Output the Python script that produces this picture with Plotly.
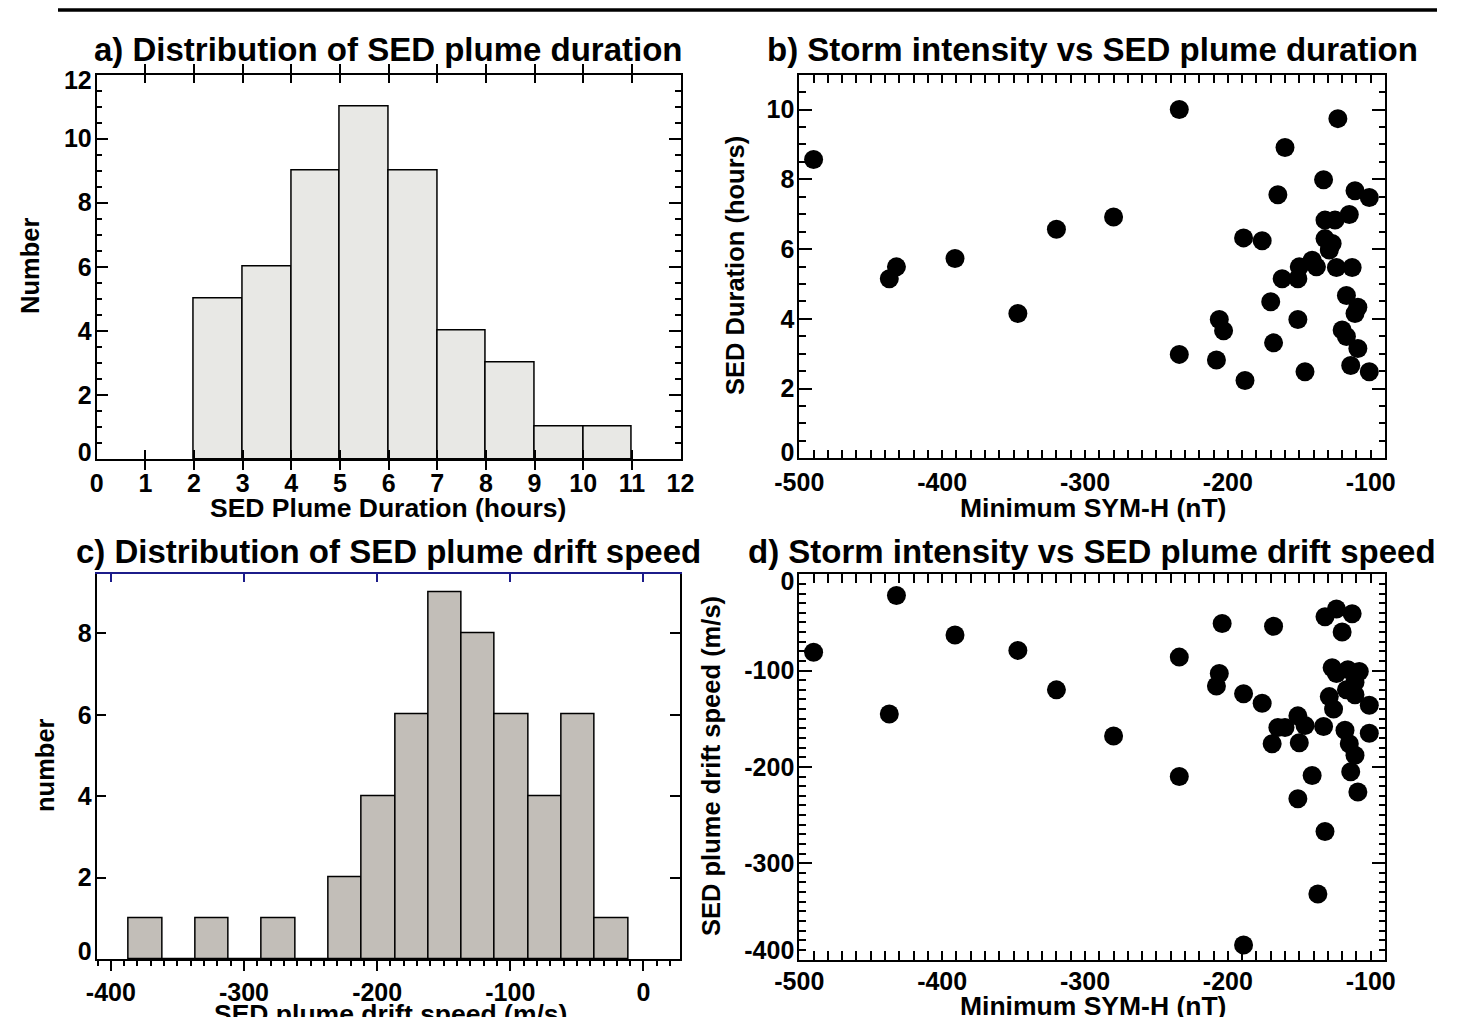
import plotly.graph_objects as go

# ---------------- data ----------------
# a) histogram of SED plume duration (hours)
dur_edges = [2, 3, 4, 5, 6, 7, 8, 9, 10, 11]
dur_counts = [5, 6, 9, 11, 9, 4, 3, 1, 1]

# c) histogram of SED plume drift speed (m/s)
spd_edges = [-386.5, -361.5, -336.5, -311.5, -286.5, -261.5, -236.5, -211.5,
             -186.5, -161.5, -136.5, -111.5, -86.5, -61.5, -36.5, -11.5]
spd_counts = [1, 0, 1, 0, 1, 0, 2, 4, 6, 9, 8, 6, 4, 6, 1]

# b) Minimum SYM-H vs SED duration
symh_b = [-490, -234, -123, -160, -133, -165, -111, -101, -115, -132, -125, -280,
          -320, -189, -176, -132, -127, -129, -391, -432, -437, -141, -150, -138,
          -124, -113, -162, -151, -117, -170, -109, -111, -347, -206, -151, -203,
          -120, -117, -168, -109, -234, -208, -114, -146, -101, -188]
dur_b = [8.57, 10.0, 9.74, 8.91, 7.99, 7.56, 7.67, 7.48, 6.99, 6.83, 6.83, 6.92,
         6.57, 6.32, 6.24, 6.30, 6.16, 5.97, 5.73, 5.49, 5.15, 5.68, 5.49, 5.49,
         5.47, 5.47, 5.15, 5.15, 4.67, 4.49, 4.33, 4.15, 4.15, 3.98, 3.98, 3.66,
         3.68, 3.49, 3.31, 3.15, 2.98, 2.82, 2.66, 2.48, 2.48, 2.23]

# d) Minimum SYM-H vs SED drift speed
symh_d = [-490, -432, -437, -391, -347, -320, -280, -234, -234, -204, -206, -208,
          -189, -189, -176, -168, -169, -165, -160, -151, -146, -150, -151, -141,
          -133, -132, -137, -132, -124, -113, -120, -127, -124, -116, -108, -111,
          -117, -111, -129, -126, -101, -118, -101, -115, -111, -114, -109]
spd_d = [-81, -22, -145, -63, -79, -120, -168, -86, -210, -51, -103, -116,
         -124, -385, -134, -54, -176, -159, -159, -147, -157, -175, -233, -209,
         -158, -267, -332, -44, -36, -41, -60, -97, -103, -99, -101, -112,
         -120, -125, -127, -140, -136, -162, -165, -176, -188, -205, -226]

# tick labels
dur_xticks = list(range(0, 13))
dur_xticklabels = [str(v) for v in dur_xticks]
count_a_ticks = [0, 2, 4, 6, 8, 10, 12]
count_a_labels = ["0", "2", "4", "6", "8", "10", "12"]
symh_ticks = [-500, -400, -300, -200, -100]
symh_labels = ["-500", "-400", "-300", "-200", "-100"]
dur_b_ticks = [0, 2, 4, 6, 8, 10]
dur_b_labels = ["0", "2", "4", "6", "8", "10"]
spd_xticks = [-400, -300, -200, -100, 0]
spd_xlabels = ["-400", "-300", "-200", "-100", "0"]
count_c_ticks = [0, 2, 4, 6, 8]
count_c_labels = ["0", "2", "4", "6", "8"]
spd_yticks = [-400, -300, -200, -100, 0]
spd_ylabels = ["-400", "-300", "-200", "-100", "0"]

titles = ["a) Distribution of SED plume duration",
          "b) Storm intensity vs SED plume duration",
          "c) Distribution of SED plume drift speed",
          "d) Storm intensity vs SED plume drift speed"]

# ---------------- layout helpers ----------------
W, H = 1468, 1017
FONT = "Liberation Sans, Arial, Helvetica, sans-serif"


def xd(a, b):
    return [a / W, b / W]


def yd(top, bottom):
    return [1 - bottom / H, 1 - top / H]


def px(x):
    return x / W


def py(y):
    return 1 - y / H


def nudge(vals, rng, top_px, bottom_px, shift_top, shift_bottom):
    """Move labels that sit on the frame edges slightly inward (IDL style)."""
    upp = (rng[1] - rng[0]) / (bottom_px - top_px)
    out = []
    for v in vals:
        if v == rng[1]:
            out.append(v - shift_top * upp)
        elif v == rng[0]:
            out.append(v + shift_bottom * upp)
        else:
            out.append(v)
    return out


tickfont = dict(family=FONT, size=25, color="black", weight="bold")
axis_common = dict(showgrid=False, zeroline=False, showline=True, automargin=False,
                   linecolor="black", linewidth=1.5, tickcolor="black",
                   tickwidth=1.5)
label_axis = dict(showgrid=False, zeroline=False, showline=False, ticks="",
                  automargin=False, tickmode="array", tickfont=tickfont,
                  ticklabelstandoff=4, side="left")

# panel frames (pixels)
A = dict(x0=96.7, x1=680.5, y0=74.5, y1=459.0, yr=[0, 12])
B = dict(x0=799.3, x1=1385.0, y0=74.7, y1=458.3, yr=[0, 11])
C = dict(x0=96.6, x1=680.2, y0=574.3, y1=959.0, yr=[0, 9.45])
D = dict(x0=799.3, x1=1385.0, y0=574.3, y1=959.5, yr=[-400, 0])

fig = go.Figure()

# a) histogram
dur_centers = [(dur_edges[i] + dur_edges[i + 1]) / 2 for i in range(len(dur_counts))]
dur_widths = [dur_edges[i + 1] - dur_edges[i] for i in range(len(dur_counts))]
fig.add_trace(go.Bar(x=dur_centers, y=dur_counts, width=dur_widths,
                     marker=dict(color="#e8e8e5", line=dict(color="black", width=1.5)),
                     xaxis="x", yaxis="y", showlegend=False))

# b) scatter
fig.add_trace(go.Scatter(x=symh_b, y=dur_b, mode="markers",
                         marker=dict(color="black", size=19, line=dict(width=0)),
                         xaxis="x2", yaxis="y2", showlegend=False))

# c) histogram
spd_centers = [(spd_edges[i] + spd_edges[i + 1]) / 2 for i in range(len(spd_counts))]
spd_widths = [spd_edges[i + 1] - spd_edges[i] for i in range(len(spd_counts))]
fig.add_trace(go.Bar(x=spd_centers, y=spd_counts, width=spd_widths,
                     marker=dict(color="#c2beb8", line=dict(color="black", width=1.5)),
                     xaxis="x3", yaxis="y3", showlegend=False))

# d) scatter
fig.add_trace(go.Scatter(x=symh_d, y=spd_d, mode="markers",
                         marker=dict(color="black", size=19, line=dict(width=0)),
                         xaxis="x4", yaxis="y4", showlegend=False))

# empty carriers so that the overlay axes are drawn
for xa, ya in [("x5", "y3"), ("x", "y5"), ("x2", "y6"), ("x3", "y7"), ("x4", "y8")]:
    fig.add_trace(go.Scatter(x=[None], y=[None], mode="markers", xaxis=xa, yaxis=ya,
                             showlegend=False, hoverinfo="skip"))


def minor_in(d, l):
    return dict(dtick=d, ticklen=l, ticks="inside", tickcolor="black", tickwidth=1.5)


fig.update_layout(
    template="none",
    autosize=True,
    showlegend=False,
    margin=dict(l=0, r=0, t=0, b=0, pad=0, autoexpand=False),
    paper_bgcolor="white", plot_bgcolor="white",
    bargap=0,
    font=dict(family=FONT, color="black"),
    # panel a
    xaxis=dict(domain=xd(A["x0"], A["x1"]), range=[0, 12], tickmode="array",
               tickvals=dur_xticks, ticktext=dur_xticklabels, tickfont=tickfont,
               ticks="inside", ticklen=9, mirror="allticks", anchor="y",
               ticklabelstandoff=1, **axis_common),
    yaxis=dict(domain=yd(A["y0"], A["y1"]), range=A["yr"], tickmode="array",
               tickvals=count_a_ticks, showticklabels=False,
               ticks="inside", ticklen=12, mirror="allticks", anchor="x",
               minor=minor_in(0.5, 6), **axis_common),
    yaxis5=dict(overlaying="y", anchor="x", range=A["yr"],
                tickvals=nudge(count_a_ticks, A["yr"], A["y0"], A["y1"], 5.5, 7),
                ticktext=count_a_labels, **label_axis),
    # panel b
    xaxis2=dict(domain=xd(B["x0"], B["x1"]), range=[-500, -90], tickmode="array",
                tickvals=symh_ticks, ticktext=symh_labels, tickfont=tickfont,
                ticks="inside", ticklen=9, mirror="allticks", anchor="y2",
                minor=minor_in(10, 4.5), ticklabelstandoff=1, **axis_common),
    yaxis2=dict(domain=yd(B["y0"], B["y1"]), range=B["yr"], tickmode="array",
                tickvals=dur_b_ticks, showticklabels=False,
                ticks="inside", ticklen=13, mirror="allticks", anchor="x2",
                minor=minor_in(0.5, 6.5), **axis_common),
    yaxis6=dict(overlaying="y2", anchor="x2", range=B["yr"],
                tickvals=nudge(dur_b_ticks, B["yr"], B["y0"], B["y1"], 0, 6),
                ticktext=dur_b_labels, **label_axis),
    # panel c
    xaxis3=dict(domain=xd(C["x0"], C["x1"]), range=[-410.7, 27.6], tickmode="array",
                tickvals=spd_xticks, ticktext=spd_xlabels, tickfont=tickfont,
                ticks="outside", ticklen=10, mirror=False, anchor="y3",
                minor=dict(dtick=10, tick0=0, ticklen=5.5, ticks="outside",
                           tickcolor="black", tickwidth=1.5),
                ticklabelstandoff=0, **axis_common),
    xaxis5=dict(overlaying="x3", side="top", anchor="y3", range=[-410.7, 27.6],
                tickmode="array", tickvals=spd_xticks, ticks="inside", ticklen=8,
                showticklabels=False, showgrid=False, zeroline=False, showline=True,
                automargin=False, linecolor="#1c1c8a", linewidth=1.5,
                tickcolor="#1c1c8a", tickwidth=1.5),
    yaxis3=dict(domain=yd(C["y0"], C["y1"]), range=C["yr"], tickmode="array",
                tickvals=count_c_ticks, showticklabels=False,
                ticks="inside", ticklen=10, mirror="ticks", anchor="x3", **axis_common),
    yaxis7=dict(overlaying="y3", anchor="x3", range=C["yr"],
                tickvals=nudge(count_c_ticks, C["yr"], C["y0"], C["y1"], 0, 8),
                ticktext=count_c_labels, **label_axis),
    # panel d
    xaxis4=dict(domain=xd(D["x0"], D["x1"]), range=[-500, -90], tickmode="array",
                tickvals=symh_ticks, ticktext=symh_labels, tickfont=tickfont,
                ticks="inside", ticklen=9, mirror="allticks", anchor="y4",
                minor=minor_in(10, 4.5), ticklabelstandoff=-1, **axis_common),
    yaxis4=dict(domain=yd(D["y0"], D["y1"]), range=D["yr"], tickmode="array",
                tickvals=spd_yticks, showticklabels=False,
                ticks="inside", ticklen=13, mirror="allticks", anchor="x4",
                minor=minor_in(10, 6.5), **axis_common),
    yaxis8=dict(overlaying="y4", anchor="x4", range=D["yr"],
                tickvals=nudge(spd_yticks, D["yr"], D["y0"], D["y1"], 6.5, 9.5),
                ticktext=spd_ylabels, **label_axis),
)

# page rule at the top
fig.add_shape(type="line", xref="paper", yref="paper",
              x0=px(58), x1=px(1437), y0=py(10), y1=py(10),
              line=dict(color="black", width=3.5))

title_font = dict(family=FONT, size=33, color="black", weight="bold")
xlabel_font = dict(family=FONT, size=26.5, color="black", weight="bold")
ylabel_font = dict(family=FONT, size=25.5, color="black", weight="bold")

annots = [
    (titles[0], 388, 50, 0, title_font),
    (titles[1], 1092, 50, 0, title_font),
    (titles[2], 388, 551, 0, title_font),
    (titles[3], 1092, 551, 0, title_font),
    ("SED Plume Duration (hours)", 388, 508, 0, xlabel_font),
    ("Minimum SYM-H (nT)", 1093, 508, 0, xlabel_font),
    ("SED plume drift speed (m/s)", 390, 1014, 0, xlabel_font),
    ("Minimum SYM-H (nT)", 1093, 1006, 0, xlabel_font),
    ("Number", 30, 266, -90, ylabel_font),
    ("SED Duration (hours)", 735, 266, -90, ylabel_font),
    ("number", 45, 765, -90, ylabel_font),
    ("SED plume drift speed (m/s)", 711, 766, -90, ylabel_font),
]
for text, x, y, ang, f in annots:
    fig.add_annotation(text=text, x=px(x), y=py(y), xref="paper", yref="paper",
                       xanchor="center", yanchor="middle", showarrow=False,
                       textangle=ang, font=f)

post = "document.documentElement.style.margin='0';document.body.style.margin='0';"
fig.write_html("out.html", default_width="100vw", default_height="100vh",
               config={"displayModeBar": False}, post_script=post)
